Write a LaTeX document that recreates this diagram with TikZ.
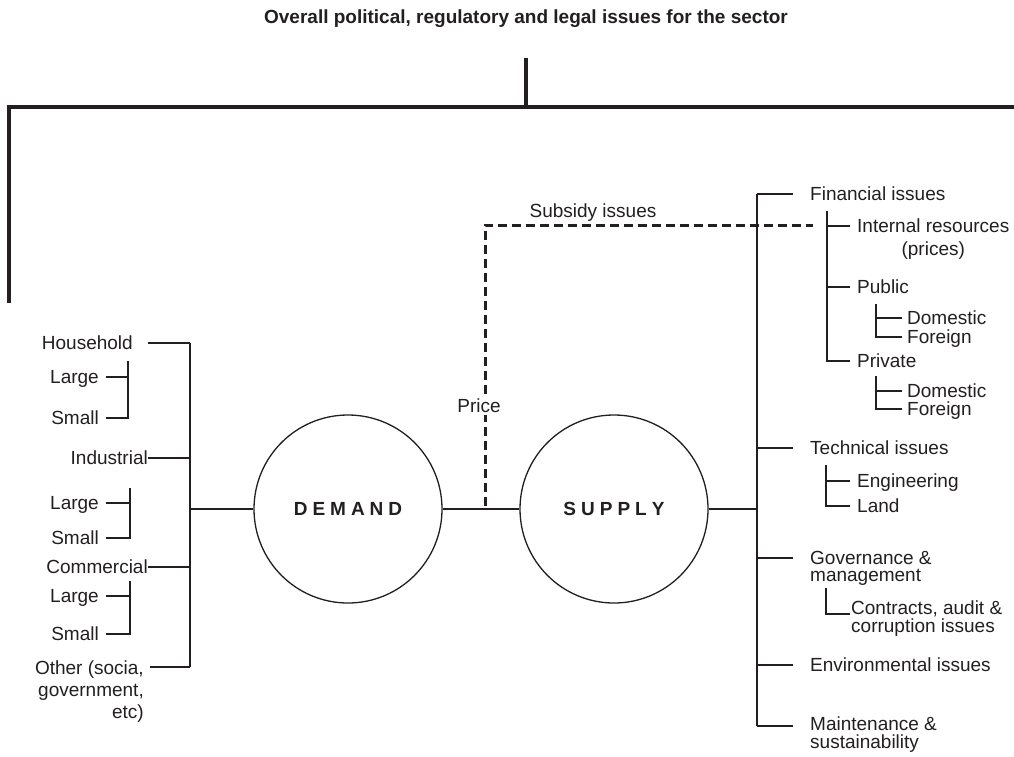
\documentclass[tikz,border=0pt]{standalone}
\usepackage{fontspec}
\setmainfont{Liberation Sans}
\usetikzlibrary{calc}
\definecolor{ink}{RGB}{35,31,32}
\newcommand\lsp{\kern5pt}
\begin{document}
\begin{tikzpicture}[x=1pt,y=-1pt,
  ln/.style={draw=ink, line width=1.3pt},
  heavy/.style={draw=ink, line width=3.5pt},
  dashline/.style={draw=ink, line width=3pt, dash pattern=on 9pt off 5pt},
  lbl/.style={inner sep=0pt, font=\fontsize{19}{19}\selectfont, text=ink},
  two/.style={font=\fontsize{19}{17.5}\selectfont},
  ball/.style={circle, draw=ink, line width=1.3pt, minimum size=188pt, inner sep=0pt,
    font=\bfseries\fontsize{19}{21}\selectfont, text=ink}]
\useasboundingbox (0,0) rectangle (1014,756);
\fill[white] (0,0) rectangle (1014,756);

% ---- top
\node[lbl, font=\bfseries\fontsize{19}{21}\selectfont, anchor=base] (title) at (526,23)
  {Overall political, regulatory and legal issues for the sector};
\coordinate (bar-top) at (526,58);
\coordinate (bar-bot) at (526,107);
\draw[heavy] (bar-top) -- (bar-bot);
\coordinate (frame-l) at (9,303);
\coordinate (frame-c) at (9,107);
\coordinate (frame-r) at (1018,107);
\draw[heavy] (frame-l) -- (frame-c) -- (frame-r);

% ---- circles
\node[ball] (demand) at (348,509) {D\lsp E\lsp M\lsp A\lsp N\lsp D};
\node[ball] (supply) at (614,509) {S\lsp U\lsp P\lsp P\lsp L\lsp Y};
\draw[ln] (demand) -- (supply);

% ---- dashed subsidy path
\coordinate (d-bot) at (485,506);
\coordinate (d-corner) at (485,225);
\coordinate (d-end) at (813,225);
\draw[dashline] (d-bot) -- (d-corner) -- (d-end);
\node[lbl, anchor=north] (subsidy) at (593,204) {Subsidy issues};
\node[lbl, anchor=north, fill=white, inner sep=1.5pt] (price) at (479,397.5) {Price};

% ---- left tree
\coordinate (L-top) at (190,343);
\coordinate (L-ind) at (190,458);
\coordinate (L-dem) at (190,509);
\coordinate (L-com) at (190,567);
\coordinate (L-bot) at (190,667);
\draw[ln] (L-top) -- (L-bot);
\draw[ln] (L-dem) -- (demand);

\node[lbl, anchor=north east] (hh) at (133,336) {Household};
\node[lbl, anchor=north east] (ind) at (148,451) {Industrial};
\node[lbl, anchor=north east] (com) at (148,560) {Commercial};
\node[lbl, anchor=north east, align=right, font=\fontsize{19}{22}\selectfont] (oth) at (144,661)
  {Other (socia,\\government,\\etc)};
\draw[ln, shorten >=15pt] (L-top) -- (L-top -| hh.east);
\draw[ln] (L-ind) -- (L-ind -| ind.east);
\draw[ln] (L-com) -- (L-com -| com.east);
\draw[ln, shorten >=6pt] (L-bot) -- (L-bot -| oth.east);

% household sub
\coordinate (hh-a) at (128,361);
\coordinate (hh-l) at (128,377);
\coordinate (hh-s) at (128,418);
\node[lbl, anchor=north east] (hh-large) at (99,370) {Large};
\node[lbl, anchor=north east] (hh-small) at (99,411) {Small};
\draw[ln, shorten >=7pt] (hh-a) -- (hh-s) -- (hh-s -| hh-small.east);
\draw[ln, shorten >=7pt] (hh-l) -- (hh-l -| hh-large.east);

% industrial sub
\coordinate (in-a) at (130,488);
\coordinate (in-l) at (130,503);
\coordinate (in-s) at (130,538);
\node[lbl, anchor=north east] (in-large) at (99,496) {Large};
\node[lbl, anchor=north east] (in-small) at (99,531) {Small};
\draw[ln, shorten >=7pt] (in-a) -- (in-s) -- (in-s -| in-small.east);
\draw[ln, shorten >=7pt] (in-l) -- (in-l -| in-large.east);

% commercial sub
\coordinate (co-a) at (130,581);
\coordinate (co-l) at (130,596);
\coordinate (co-s) at (130,634);
\node[lbl, anchor=north east] (co-large) at (99,589) {Large};
\node[lbl, anchor=north east] (co-small) at (99,627) {Small};
\draw[ln, shorten >=7pt] (co-a) -- (co-s) -- (co-s -| co-small.east);
\draw[ln, shorten >=7pt] (co-l) -- (co-l -| co-large.east);

% ---- right tree
\coordinate (R-top) at (757,194);
\coordinate (R-tec) at (757,448);
\coordinate (R-sup) at (757,509);
\coordinate (R-gov) at (757,558);
\coordinate (R-env) at (757,665);
\coordinate (R-bot) at (757,726);
\draw[ln] (R-top) -- (R-bot);
\draw[ln] (supply) -- (R-sup);

\node[lbl, anchor=north west] (fin) at (810,187) {Financial issues};
\node[lbl, anchor=north west] (tec) at (810,441) {Technical issues};
\node[lbl, two, anchor=north west, align=left] (gov) at (810,551) {Governance \&\\management};
\node[lbl, anchor=north west] (env) at (810,658) {Environmental issues};
\node[lbl, two, anchor=north west, align=left] (mai) at (810,717) {Maintenance \&\\sustainability};
\draw[ln, shorten >=17pt] (R-top) -- (R-top -| fin.west);
\draw[ln, shorten >=17pt] (R-tec) -- (R-tec -| tec.west);
\draw[ln, shorten >=17pt] (R-gov) -- (R-gov -| gov.west);
\draw[ln, shorten >=17pt] (R-env) -- (R-env -| env.west);
\draw[ln, shorten >=17pt] (R-bot) -- (R-bot -| mai.west);

% financial sub
\coordinate (F-a) at (827,211);
\coordinate (F-int) at (827,226);
\coordinate (F-pub) at (827,287);
\coordinate (F-pri) at (827,361);
\node[lbl, anchor=north west, align=center, font=\fontsize{19}{23}\selectfont] (int) at (857,219)
  {Internal resources\\(prices)};
\node[lbl, anchor=north west] (pub) at (857,280) {Public};
\node[lbl, anchor=north west] (pri) at (857,354) {Private};
\draw[ln, shorten >=7pt] (F-a) -- (F-pri) -- (F-pri -| pri.west);
\draw[ln, shorten >=7pt] (F-int) -- (F-int -| int.west);
\draw[ln, shorten >=7pt] (F-pub) -- (F-pub -| pub.west);

% public sub
\coordinate (P-a) at (876,304);
\coordinate (P-dom) at (876,318);
\coordinate (P-for) at (876,337);
\node[lbl, anchor=north west] (pdom) at (907,311) {Domestic};
\node[lbl, anchor=north west] (pfor) at (907,330) {Foreign};
\draw[ln, shorten >=5pt] (P-a) -- (P-for) -- (P-for -| pfor.west);
\draw[ln, shorten >=5pt] (P-dom) -- (P-dom -| pdom.west);

% private sub
\coordinate (V-a) at (876,376);
\coordinate (V-dom) at (876,391);
\coordinate (V-for) at (876,409);
\node[lbl, anchor=north west] (vdom) at (907,384) {Domestic};
\node[lbl, anchor=north west] (vfor) at (907,402) {Foreign};
\draw[ln, shorten >=5pt] (V-a) -- (V-for) -- (V-for -| vfor.west);
\draw[ln, shorten >=5pt] (V-dom) -- (V-dom -| vdom.west);

% technical sub
\coordinate (T-a) at (826,465);
\coordinate (T-eng) at (826,481);
\coordinate (T-land) at (826,506);
\node[lbl, anchor=north west] (eng) at (857,474) {Engineering};
\node[lbl, anchor=north west] (land) at (857,499) {Land};
\draw[ln, shorten >=7pt] (T-a) -- (T-land) -- (T-land -| land.west);
\draw[ln, shorten >=7pt] (T-eng) -- (T-eng -| eng.west);

% governance sub
\coordinate (G-a) at (826,588);
\coordinate (G-c) at (826,614);
\node[lbl, two, anchor=north west, align=left] (con) at (851,601) {Contracts, audit \&\\corruption issues};
\draw[ln, shorten >=1pt] (G-a) -- (G-c) -- (G-c -| con.west);
\end{tikzpicture}
\end{document}
